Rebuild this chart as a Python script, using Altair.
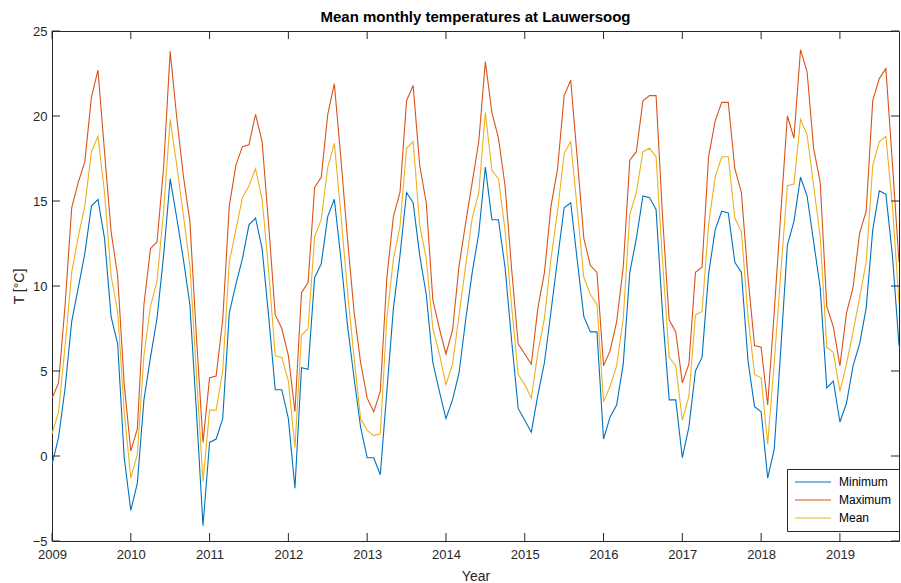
import altair as alt
import pandas as pd

# Monthly series, January 2009 to October 2019 (one value per month)
min_temp = [
    -0.5, 1.1, 4.0, 7.9, 9.9, 11.9, 14.7, 15.1, 12.8, 8.2, 6.6, -0.1,   # 2009
    -3.2, -1.6, 3.3, 5.8, 8.1, 11.8, 16.3, 14.0, 11.6, 8.9, 2.6, -4.1,  # 2010
    0.8, 1.0, 2.2, 8.4, 10.1, 11.6, 13.6, 14.0, 12.2, 8.2, 3.9, 3.9,    # 2011
    2.2, -1.9, 5.2, 5.1, 10.5, 11.3, 14.1, 15.1, 11.6, 7.7, 4.6, 1.7,   # 2012
    -0.1, -0.1, -1.1, 3.8, 8.7, 11.8, 15.5, 14.9, 11.8, 9.5, 5.5, 3.8,  # 2013
    2.2, 3.3, 4.9, 8.0, 10.8, 13.1, 17.0, 13.9, 13.9, 11.1, 6.8, 2.8,   # 2014
    2.1, 1.4, 3.6, 5.5, 8.5, 11.6, 14.6, 14.9, 11.5, 8.2, 7.3, 7.3,     # 2015
    1.0, 2.3, 3.0, 5.4, 10.8, 12.8, 15.3, 15.2, 14.5, 8.3, 3.3, 3.3,    # 2016
    -0.1, 1.7, 5.0, 5.8, 10.7, 13.3, 14.4, 14.3, 11.4, 10.8, 5.6, 2.9,  # 2017
    2.6, -1.3, 0.4, 6.3, 12.4, 13.8, 16.4, 15.3, 12.6, 9.9, 4.0, 4.4,   # 2018
    2.0, 3.1, 5.3, 6.6, 8.7, 13.3, 15.6, 15.4, 11.8, 6.5,               # 2019
]
max_temp = [
    3.4, 4.3, 8.9, 14.6, 16.1, 17.3, 21.1, 22.7, 17.9, 13.2, 10.6, 4.2,
    0.3, 1.6, 8.9, 12.2, 12.6, 17.0, 23.8, 19.9, 16.5, 13.8, 7.0, 0.8,
    4.6, 4.7, 8.0, 14.7, 17.1, 18.2, 18.3, 20.1, 18.5, 13.6, 8.3, 7.5,
    5.9, 2.6, 9.6, 10.2, 15.8, 16.4, 20.1, 21.9, 17.5, 12.8, 8.5, 5.5,
    3.4, 2.6, 3.8, 10.5, 14.1, 15.5, 20.9, 21.8, 17.1, 14.9, 9.2, 7.5,
    6.0, 7.4, 11.2, 13.7, 16.1, 18.5, 23.2, 20.2, 18.7, 15.9, 11.0, 6.6,
    6.0, 5.4, 8.7, 10.8, 14.7, 16.9, 21.2, 22.1, 17.5, 12.8, 11.2, 10.8,
    5.3, 6.2, 7.9, 11.1, 17.4, 17.9, 20.9, 21.2, 21.2, 14.0, 8.0, 7.3,
    4.3, 5.4, 10.8, 11.1, 17.6, 19.7, 20.8, 20.8, 16.9, 15.5, 10.5, 6.5,
    6.4, 3.0, 8.5, 14.3, 20.0, 18.7, 23.9, 22.6, 18.1, 16.1, 8.8, 7.6,
    5.3, 8.4, 9.9, 13.1, 14.4, 20.9, 22.2, 22.8, 17.2, 11.4,
]
mean_temp = [
    1.3, 2.6, 6.5, 10.8, 12.9, 14.7, 17.9, 18.8, 15.5, 10.6, 8.5, 2.6,
    -1.3, 0.1, 5.9, 8.8, 10.3, 14.4, 19.8, 17.1, 14.2, 11.2, 4.8, -1.5,
    2.7, 2.7, 5.0, 11.4, 13.3, 15.2, 15.9, 16.9, 15.1, 10.9, 5.9, 5.8,
    4.4, 0.5, 7.1, 7.5, 12.9, 13.9, 17.0, 18.4, 14.2, 9.7, 5.8, 2.2,
    1.5, 1.2, 1.3, 8.1, 11.6, 13.5, 18.1, 18.5, 13.6, 11.6, 7.5, 6.0,
    4.2, 5.4, 8.3, 11.2, 14.0, 15.5, 20.2, 16.8, 16.3, 13.3, 8.8, 4.8,
    4.2, 3.4, 6.1, 8.1, 11.6, 14.4, 17.8, 18.5, 14.5, 10.5, 9.5, 8.9,
    3.2, 4.1, 5.3, 8.1, 14.2, 15.5, 17.9, 18.1, 17.6, 11.4, 5.8, 5.3,
    2.1, 3.5, 8.3, 8.5, 13.6, 16.4, 17.6, 17.6, 14.0, 13.2, 8.2, 4.8,
    4.6, 0.7, 5.5, 10.8, 15.9, 16.0, 19.8, 18.9, 15.9, 12.9, 6.4, 6.1,
    3.8, 5.4, 7.3, 9.3, 11.4, 17.1, 18.5, 18.8, 14.7, 9.0,
]

series_names = ["Minimum", "Maximum", "Mean"]
series_colors = ["#0072BD", "#D95319", "#EDB120"]
year_ticks = list(range(2009, 2020))
temp_ticks = [-5, 0, 5, 10, 15, 20, 25]
start_year = 2009

# Long-form table: fractional year per month
rows = []
for name, values in zip(series_names, [min_temp, max_temp, mean_temp]):
    for k, v in enumerate(values):
        rows.append({"t": start_year + k / 12, "T": v, "series": name})
df = pd.DataFrame(rows)
t_end = start_year + (len(min_temp) - 1) / 12

W, H = 847, 510
TICK = 8
AXIS_COLOR = "#262626"
FONT = "Liberation Sans"

x_scale = alt.Scale(domain=[start_year, t_end], nice=False, zero=False)
y_scale = alt.Scale(domain=[-5, 25], nice=False, zero=False)

x_axis = alt.Axis(title="Year", values=year_ticks, format="d",
                  ticks=False, domain=False, grid=False,
                  labelPadding=7, titlePadding=8,
                  labelFontSize=13, titleFontSize=14,
                  labelColor=AXIS_COLOR, titleColor=AXIS_COLOR,
                  titleFontWeight="normal", labelFlush=False)
y_axis = alt.Axis(title="T [°C]", values=temp_ticks, format="d",
                  ticks=False, domain=False, grid=False,
                  labelPadding=5, titlePadding=6,
                  labelFontSize=13, titleFontSize=14,
                  labelColor=AXIS_COLOR, titleColor=AXIS_COLOR,
                  titleFontWeight="normal", labelFlush=False)

# Legend swatch: a long horizontal stroke drawn from a compact symbol size
legend_line = "M-4,0H4"

lines = alt.Chart(df).mark_line(strokeWidth=1.1, clip=True).encode(
    x=alt.X("t:Q", scale=x_scale, axis=x_axis),
    y=alt.Y("T:Q", scale=y_scale, axis=y_axis),
    color=alt.Color("series:N", sort=series_names,
                    scale=alt.Scale(domain=series_names, range=series_colors),
                    legend=alt.Legend(title=None, orient="none",
                                      legendX=735, legendY=438,
                                      symbolType=legend_line, symbolSize=81,
                                      symbolStrokeWidth=1.2, symbolOffset=13,
                                      labelFontSize=12, labelColor="black",
                                      labelFont=FONT, labelOffset=20,
                                      strokeColor=AXIS_COLOR, fillColor="white",
                                      padding=7, rowPadding=6)),
)

xt = pd.DataFrame({"t": year_ticks})
yt = pd.DataFrame({"T": temp_ticks})

# Inward tick marks on all four sides of the box
tick_style = dict(color=AXIS_COLOR, strokeWidth=1)
x_bottom = alt.Chart(xt).mark_rule(**tick_style).encode(
    x=alt.X("t:Q", scale=x_scale, axis=x_axis), y=alt.value(H), y2=alt.value(H - TICK))
x_top = alt.Chart(xt).mark_rule(**tick_style).encode(
    x=alt.X("t:Q", scale=x_scale, axis=x_axis), y=alt.value(0), y2=alt.value(TICK))
y_left = alt.Chart(yt).mark_rule(**tick_style).encode(
    y=alt.Y("T:Q", scale=y_scale, axis=y_axis), x=alt.value(0), x2=alt.value(TICK))
y_right = alt.Chart(yt).mark_rule(**tick_style).encode(
    y=alt.Y("T:Q", scale=y_scale, axis=y_axis), x=alt.value(W), x2=alt.value(W - TICK))

chart = alt.layer(lines, x_bottom, x_top, y_left, y_right).properties(
    width=W, height=H,
    title=alt.TitleParams("Mean monthly temperatures at Lauwersoog",
                          fontSize=15, fontWeight="bold", font=FONT,
                          color="black", offset=0, anchor="middle"),
    padding={"left": 52, "top": 31, "right": 2, "bottom": 42},
    autosize=alt.AutoSizeParams(type="none"),
).configure(font=FONT, background="white").configure_view(
    stroke=AXIS_COLOR, strokeWidth=1
).configure_axis(labelFont=FONT, titleFont=FONT)

chart.save("out.html", embed_options={"renderer": "svg", "actions": False})
